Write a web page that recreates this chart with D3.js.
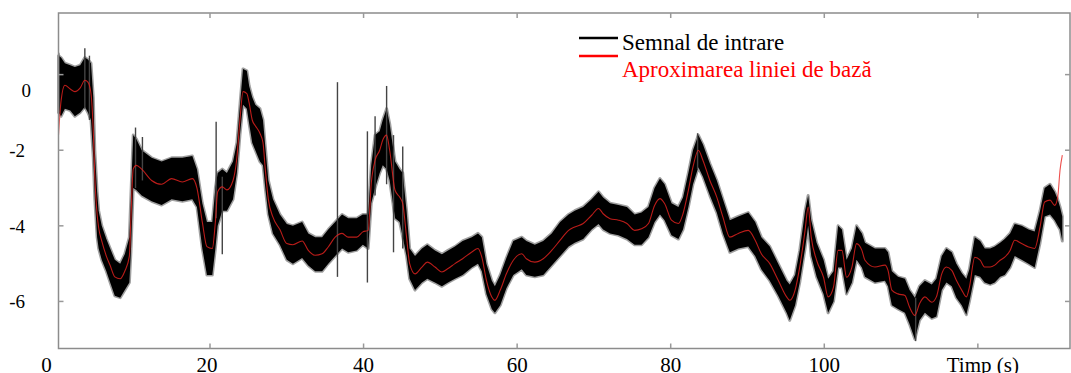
<!DOCTYPE html>
<html>
<head>
<meta charset="utf-8">
<script src="https://cdn.jsdelivr.net/npm/d3@7"></script>
<style>
  html, body { margin: 0; padding: 0; background: #fff; }
  svg { display: block; font-family: "Liberation Serif", "Times New Roman", serif; }
</style>
</head>
<body>
<svg id="chart" width="1071" height="373"></svg>
<script>
// time in seconds
var times = [0.27,0.6,1.1,1.8,2.4,3.1,3.7,4.1,4.5,4.8,5.0,5.3,5.5,5.9,6.5,7.0,7.6,8.3,8.9,9.5,9.7,10.0,10.4,11.1,12.4,13.7,15.0,16.4,17.7,18.3,19.0,19.6,20.3,20.7,21.0,21.6,22.2,23.0,23.5,23.9,24.3,24.8,25.1,25.5,25.9,26.5,26.9,
  27.2,27.6,28.2,29.1,30.0,30.8,32.0,32.8,33.7,34.6,35.4,36.3,37.2,38.0,39.1,39.9,40.6,41.0,41.5,42.1,42.5,43.0,43.4,44.1,44.7,45.1,45.6,46.0,46.7,47.6,48.3,49.3,50.2,51.0,51.9,52.9,
  54.1,54.9,55.4,56.0,56.7,57.1,57.8,58.6,59.5,60.6,61.2,62.3,63.4,64.5,65.6,66.7,67.5,68.6,69.7,70.6,71.2,72.1,73.2,74.3,75.3,76.2,77.1,77.9,78.6,79.2,
  80.1,81.0,81.6,82.3,82.9,83.6,84.2,85.1,86.0,86.8,87.7,88.8,90.1,91.0,91.8,92.9,94.0,95.1,95.5,96.2,96.8,97.5,97.9,98.3,99.0,99.9,100.5,101.2,101.8,102.3,102.9,103.6,104.2,104.9,105.3,
  106.6,107.9,108.3,108.8,109.6,110.5,111.1,111.8,112.4,113.1,114.0,114.6,115.3,115.9,116.6,117.2,117.9,118.5,118.9,119.6,120.3,120.9,121.6,122.2,122.9,123.5,124.2,124.8,125.7,126.6,127.4,128.1,128.7,129.4,130.0,130.4,130.7,131.0];

// baseline approximation (red)
var baseline = [-1.6,-0.7,-0.28,-0.38,-0.45,-0.35,-0.15,-0.2,-0.5,-1.5,-2.7,-3.7,-4.05,-4.4,-4.8,-5.05,-5.35,-5.4,-5.2,-4.8,-3.8,-2.5,-2.4,-2.5,-2.8,-2.9,-2.75,-2.84,-2.75,-3.0,-3.9,-4.55,-4.6,-3.9,-3.1,-2.97,-3.05,-2.8,-2.2,-1.2,-0.45,-0.5,-0.75,-1.2,-1.35,-1.55,-1.8,
  -2.5,-3.3,-3.77,-4.1,-4.47,-4.5,-4.4,-4.65,-4.78,-4.74,-4.56,-4.3,-4.2,-4.3,-4.3,-4.16,-4.12,-2.88,-2.27,-2.0,-1.73,-1.6,-2.0,-3.06,-3.24,-3.41,-4.3,-5.0,-5.27,-5.09,-4.96,-5.09,-5.22,-5.13,-5.0,-4.87,
  -4.69,-4.6,-4.83,-5.44,-5.88,-5.97,-5.7,-5.27,-4.91,-4.74,-4.87,-4.96,-4.87,-4.65,-4.38,-4.12,-4.03,-3.94,-3.72,-3.54,-3.68,-3.81,-3.85,-3.94,-4.12,-4.08,-3.94,-3.46,-3.28,-3.41,
  -3.85,-3.94,-3.68,-3.06,-2.44,-2.0,-2.27,-2.8,-3.24,-3.77,-4.3,-4.2,-4.12,-4.38,-4.74,-5.0,-5.44,-5.88,-5.97,-5.7,-5.09,-4.12,-3.5,-4.3,-4.91,-5.36,-5.88,-5.62,-4.65,-4.65,-5.36,-5.09,-4.47,-4.65,-4.91,
  -5.09,-5.04,-5.18,-5.7,-5.8,-5.84,-6.15,-6.37,-6.06,-5.88,-6.02,-5.88,-5.27,-5.09,-5.18,-5.44,-5.7,-5.88,-5.62,-4.83,-4.91,-5.09,-5.09,-5.04,-4.91,-4.83,-4.65,-4.38,-4.47,-4.56,-4.6,-4.03,-3.37,-3.32,-3.46,-3.24,-2.53,-2.13];

// upper and lower edge of the noisy input signal (black)
var signalHigh = [0.5,0.45,0.3,0.25,0.2,0.25,0.45,0.4,0.3,-0.6,-2.0,-3.1,-3.6,-4.0,-4.35,-4.6,-4.9,-5.0,-4.75,-4.3,-3.2,-1.6,-1.7,-2.0,-2.2,-2.3,-2.2,-2.2,-2.15,-2.5,-3.4,-3.9,-3.9,-3.0,-2.6,-2.5,-2.6,-2.3,-1.8,-0.8,0.15,0.1,-0.3,-0.6,-0.8,-0.9,-1.2,
  -1.9,-2.8,-3.3,-3.7,-3.95,-4.0,-3.9,-4.2,-4.3,-4.3,-4.1,-3.9,-3.7,-3.8,-3.8,-3.7,-3.7,-2.4,-1.6,-1.5,-1.2,-0.9,-1.3,-2.3,-2.5,-2.6,-3.6,-4.6,-4.8,-4.6,-4.5,-4.65,-4.75,-4.65,-4.55,-4.4,
  -4.3,-4.2,-4.3,-5.0,-5.45,-5.6,-5.3,-4.85,-4.4,-4.3,-4.4,-4.5,-4.4,-4.2,-3.9,-3.7,-3.6,-3.5,-3.3,-3.1,-3.25,-3.4,-3.45,-3.5,-3.7,-3.65,-3.5,-3.0,-2.75,-2.9,
  -3.4,-3.5,-3.25,-2.6,-2.0,-1.6,-1.85,-2.35,-2.8,-3.3,-3.85,-3.75,-3.65,-3.9,-4.3,-4.55,-5.0,-5.45,-5.55,-5.3,-4.65,-3.6,-3.2,-3.85,-4.45,-4.9,-5.4,-5.2,-4.0,-4.1,-4.9,-4.6,-4.0,-4.2,-4.45,
  -4.6,-4.6,-4.7,-5.2,-5.35,-5.4,-5.7,-5.9,-5.6,-5.45,-5.55,-5.4,-4.8,-4.6,-4.7,-5.0,-5.25,-5.4,-5.15,-4.3,-4.4,-4.6,-4.6,-4.55,-4.45,-4.35,-4.2,-3.95,-4.0,-4.1,-4.15,-3.6,-3.0,-2.9,-3.1,-3.3,-3.5,-3.75];

var signalLow = [-1.0,-1.1,-0.9,-0.95,-1.1,-1.0,-0.85,-1.0,-1.2,-2.2,-3.3,-4.3,-4.6,-4.9,-5.2,-5.5,-5.85,-5.9,-5.7,-5.5,-4.7,-3.0,-3.05,-3.2,-3.35,-3.45,-3.3,-3.35,-3.3,-3.5,-4.6,-5.3,-5.3,-4.6,-4.0,-3.6,-3.6,-3.3,-2.6,-1.6,-0.8,-0.9,-1.3,-1.8,-2.0,-2.3,-2.4,
  -3.0,-3.7,-4.2,-4.5,-4.9,-5.0,-4.85,-5.05,-5.2,-5.2,-5.0,-4.8,-4.6,-4.7,-4.65,-4.5,-4.6,-3.4,-3.0,-2.6,-2.4,-2.5,-2.8,-3.8,-3.9,-4.3,-4.8,-5.4,-5.7,-5.5,-5.4,-5.5,-5.6,-5.5,-5.4,-5.3,
  -5.1,-5.0,-5.2,-5.8,-6.2,-6.3,-6.1,-5.65,-5.3,-5.15,-5.3,-5.35,-5.3,-5.05,-4.8,-4.55,-4.45,-4.35,-4.1,-3.95,-4.1,-4.2,-4.25,-4.35,-4.5,-4.5,-4.3,-3.9,-3.7,-3.85,
  -4.25,-4.35,-4.1,-3.5,-2.9,-2.45,-2.7,-3.2,-3.65,-4.2,-4.7,-4.6,-4.55,-4.8,-5.15,-5.45,-5.85,-6.3,-6.5,-6.1,-5.5,-4.6,-4.0,-4.8,-5.35,-5.8,-6.3,-6.0,-5.1,-5.1,-5.8,-5.5,-4.9,-5.1,-5.35,
  -5.5,-5.45,-5.6,-6.1,-6.2,-6.3,-6.6,-7.0,-6.5,-6.3,-6.45,-6.4,-5.7,-5.5,-5.6,-5.9,-6.1,-6.35,-6.0,-5.3,-5.35,-5.5,-5.55,-5.5,-5.35,-5.3,-5.1,-4.8,-4.9,-5.0,-5.1,-4.45,-3.75,-3.7,-3.85,-4.0,-4.1,-4.4];

// isolated spikes of the input signal: time, top, bottom
var spikeTimes = [0.3,3.7,4.3,10.3,11.2,20.8,21.6,36.6,40.5,41.5,43.0,43.9,45.1,83.5,111.9];
var spikeTops = [0.58,0.7,0.5,-1.4,-1.65,-1.25,-2.7,-0.2,-1.5,-1.1,-0.3,-1.6,-1.9,-1.55,-5.9];
var spikeBottoms = [-1.0,-0.9,-1.2,-3.0,-2.8,-3.8,-4.75,-5.35,-5.5,-3.2,-2.9,-4.7,-4.6,-2.5,-7.05];

var xTicks = [0, 20, 40, 60, 80, 100, 120];
var xTickLabels = ["0", "20", "40", "60", "80", "100", "Timp (s)"];
var yTicks = [0, -2, -4, -6];
var yTickLabels = ["0", "-2", "-4", "-6"];

var legendNames = ["Semnal de intrare", "Aproximarea liniei de bază"];
var legendColors = ["#000", "#ff0000"];

var svg = d3.select("#chart");
var plotLeft = 58.5, plotRight = 1070, plotTop = 13, plotBottom = 348.5;

var x = d3.scaleLinear().domain([0.27, 132]).range([plotLeft, plotRight]);
var y = d3.scaleLinear().domain([1.63, -7.245]).range([plotTop, plotBottom]);

var signal = times.map(function(t, i) {
    return {t: t, b: baseline[i], hi: signalHigh[i], lo: signalLow[i]};
});

// noisy input as a band, grey fringe underneath
var band = d3.area()
    .x(function(d) { return x(d.t); })
    .y0(function(d) { return y(d.lo); })
    .y1(function(d) { return y(d.hi); });

svg.append("path")
    .datum(signal)
    .attr("d", band)
    .attr("fill", "#000")
    .attr("stroke", "#a0a0a0")
    .attr("stroke-width", 3)
    .attr("stroke-linejoin", "round");

svg.append("path")
    .datum(signal)
    .attr("d", band)
    .attr("fill", "#000");

svg.append("g").selectAll("line")
    .data(spikeTimes)
    .enter().append("line")
    .attr("x1", function(d) { return x(d); })
    .attr("x2", function(d) { return x(d); })
    .attr("y1", function(d, i) { return y(spikeTops[i]); })
    .attr("y2", function(d, i) { return y(spikeBottoms[i]); })
    .attr("stroke", "#444")
    .attr("stroke-width", 1.4);

// baseline
var line = d3.line()
    .x(function(d) { return x(d.t); })
    .y(function(d) { return y(d.b); })
    .curve(d3.curveMonotoneX);

svg.append("path")
    .datum(signal)
    .attr("d", line)
    .attr("fill", "none")
    .attr("stroke", "#e8231f")
    .attr("stroke-opacity", 0.8)
    .attr("stroke-width", 1.1);

// frame
svg.append("rect")
    .attr("x", plotLeft).attr("y", plotTop)
    .attr("width", plotRight - plotLeft).attr("height", plotBottom - plotTop)
    .attr("fill", "none")
    .attr("stroke", "#8c8c8c")
    .attr("stroke-width", 1.5);

// ticks, pointing inward on all four sides
var tickColor = "#999";
var xt = xTicks.slice(1);
svg.append("g").selectAll("line").data(xt).enter().append("line")
    .attr("x1", function(d) { return x(d); }).attr("x2", function(d) { return x(d); })
    .attr("y1", plotBottom).attr("y2", plotBottom - 5)
    .attr("stroke", tickColor).attr("stroke-width", 1.5);
svg.append("g").selectAll("line").data(xt).enter().append("line")
    .attr("x1", function(d) { return x(d); }).attr("x2", function(d) { return x(d); })
    .attr("y1", plotTop).attr("y2", plotTop + 5)
    .attr("stroke", tickColor).attr("stroke-width", 1.5);
svg.append("g").selectAll("line").data(yTicks).enter().append("line")
    .attr("x1", plotLeft).attr("x2", plotLeft + 5)
    .attr("y1", function(d) { return y(d); }).attr("y2", function(d) { return y(d); })
    .attr("stroke", tickColor).attr("stroke-width", 1.5);
svg.append("g").selectAll("line").data(yTicks).enter().append("line")
    .attr("x1", plotRight).attr("x2", plotRight - 5)
    .attr("y1", function(d) { return y(d); }).attr("y2", function(d) { return y(d); })
    .attr("stroke", tickColor).attr("stroke-width", 1.5);

// tick labels (the originals sit slightly off their ticks)
var xLabelShift = [-10, -3, 0, 0, 0, 0, 5];
svg.append("g").selectAll("text").data(xTicks).enter().append("text")
    .attr("x", function(d, i) { return x(d) + xLabelShift[i]; })
    .attr("y", 372)
    .attr("text-anchor", "middle")
    .attr("font-size", 21)
    .attr("fill", "#000")
    .text(function(d, i) { return xTickLabels[i]; });

var yLabelShift = [15, 0, 0, 0];
svg.append("g").selectAll("text").data(yTicks).enter().append("text")
    .attr("x", function(d, i) { return i === 0 ? 31 : 25; })
    .attr("y", function(d, i) { return y(d) + 7 + yLabelShift[i]; })
    .attr("text-anchor", "end")
    .attr("font-size", 19)
    .attr("fill", "#000")
    .text(function(d, i) { return yTickLabels[i]; });

// legend
var legend = svg.append("g");
legendNames.forEach(function(name, i) {
    legend.append("line")
        .attr("x1", 579).attr("x2", 618)
        .attr("y1", 38 + i * 18).attr("y2", 38 + i * 18)
        .attr("stroke", legendColors[i]).attr("stroke-width", 2.5);
    legend.append("text")
        .attr("x", 622).attr("y", 50 + i * 27)
        .attr("font-size", 23)
        .attr("fill", legendColors[i])
        .text(name);
});
</script>
</body>
</html>
